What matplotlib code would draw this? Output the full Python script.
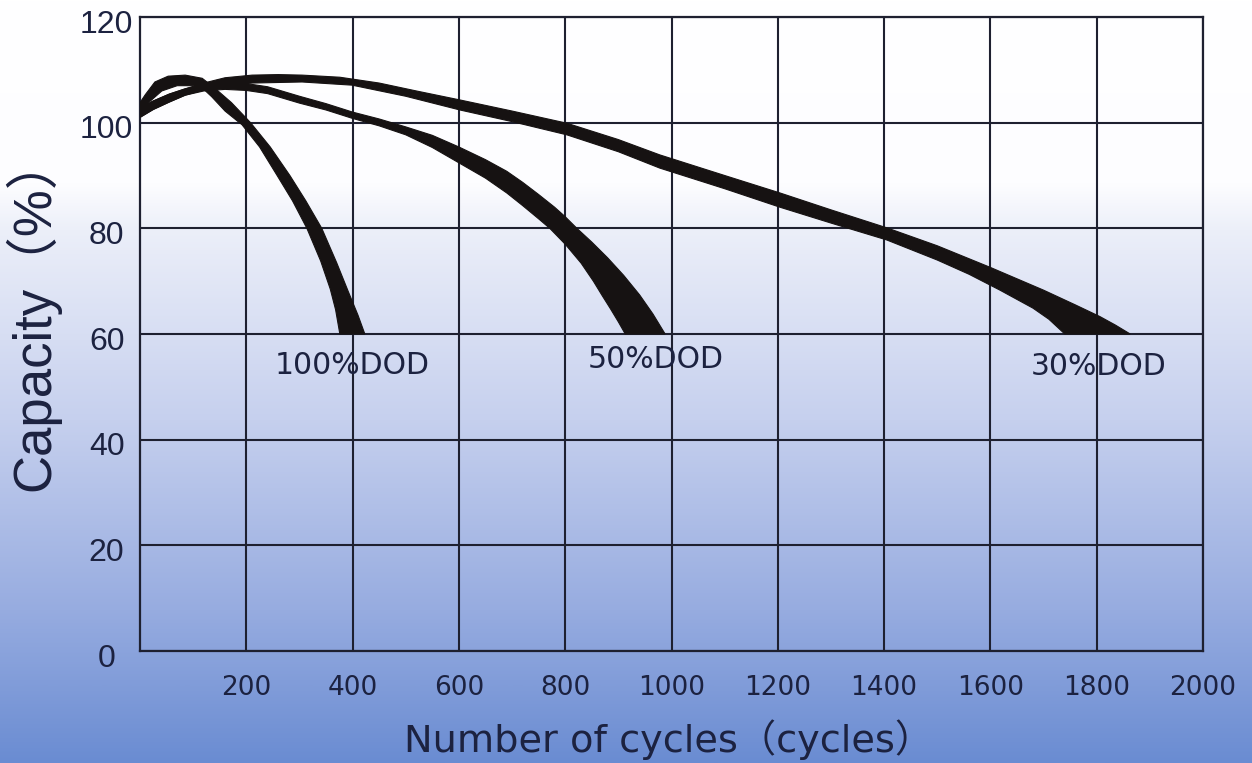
import numpy as np
import matplotlib
matplotlib.use("Agg")
import matplotlib.pyplot as plt
from matplotlib import font_manager
from matplotlib.colors import LinearSegmentedColormap
import matplotlib.transforms as mtransforms

# ---------------- data ----------------
x_ticks = [200, 400, 600, 800, 1000, 1200, 1400, 1600, 1800, 2000]
y_ticks = [0, 20, 40, 60, 80, 100, 120]

# 100% DOD band (upper/right edge and lower/left edge)
dod100_up_x = [0, 10, 28, 53, 85, 117, 140, 172, 208, 245, 282, 312, 342, 370, 392, 410, 423]
dod100_up_y = [103.8, 105.3, 107.7, 108.8, 109.0, 108.4, 106.6, 103.8, 100.0, 95.4, 90.0, 85.2, 80.0, 73.5, 68.0, 63.6, 60.0]
dod100_lo_x = [0, 15, 41, 70, 100, 117, 135, 160, 192, 225, 258, 287, 314, 340, 358, 368, 376]
dod100_lo_y = [101.8, 103.7, 106.0, 107.0, 107.0, 106.6, 104.9, 102.2, 99.6, 95.4, 90.0, 85.2, 80.0, 73.8, 68.5, 64.6, 60.0]

# 50% DOD band
dod50_up_x = [0, 25, 55, 85, 120, 160, 200, 240, 300, 350, 400, 450, 500, 550, 600, 650, 690, 720, 750, 780, 800, 822, 850, 880, 910, 940, 965, 988]
dod50_up_y = [102.8, 104.1, 105.4, 106.4, 107.2, 107.6, 107.4, 106.8, 105.0, 103.6, 102.0, 100.7, 99.2, 97.6, 95.4, 93.0, 90.8, 88.7, 86.4, 84.0, 82.2, 80.0, 77.4, 74.4, 71.1, 67.4, 63.8, 60.0]
dod50_lo_x = [0, 25, 55, 85, 120, 160, 200, 240, 300, 350, 400, 450, 500, 550, 600, 650, 690, 720, 750, 771, 800, 830, 853, 870, 885, 900, 913]
dod50_lo_y = [101.0, 102.5, 103.9, 105.2, 106.0, 106.3, 106.1, 105.5, 103.7, 102.4, 100.8, 99.4, 97.7, 95.3, 92.4, 89.5, 86.7, 84.3, 81.8, 80.0, 77.0, 73.4, 70.0, 67.2, 64.8, 62.3, 60.0]

# 30% DOD band
dod30_up_x = [0, 25, 55, 85, 120, 160, 211, 260, 305, 376, 450, 520, 602, 700, 803, 900, 978, 1100, 1204, 1300, 1405, 1500, 1600, 1700, 1760, 1806, 1835, 1863]
dod30_up_y = [102.8, 104.1, 105.4, 106.4, 107.5, 108.5, 109.0, 109.1, 109.0, 108.6, 107.5, 106.0, 104.3, 102.2, 99.9, 96.8, 93.9, 90.0, 86.7, 83.5, 80.1, 76.7, 72.6, 68.3, 65.5, 63.3, 61.7, 60.0]
dod30_lo_x = [0, 25, 55, 85, 120, 160, 211, 305, 399, 500, 602, 700, 803, 900, 978, 1100, 1204, 1300, 1405, 1500, 1560, 1618, 1680, 1710, 1740]
dod30_lo_y = [101.0, 102.5, 103.9, 105.2, 106.2, 107.0, 107.5, 107.7, 107.1, 105.0, 102.4, 100.2, 97.7, 94.5, 91.4, 87.5, 84.0, 81.0, 77.8, 74.0, 71.3, 68.3, 64.9, 62.8, 60.0]

band_labels = ["100%DOD", "50%DOD", "30%DOD"]
label_x = [254, 843, 1675]
label_y = [54.1, 55.1, 53.9]

# ---------------- fonts ----------------
names = {f.name for f in font_manager.fontManager.ttflist}
narrow = "Liberation Sans Narrow" if "Liberation Sans Narrow" in names else "Liberation Sans"
wide = "DejaVu Sans"

# ---------------- figure ----------------
W, H = 1252, 763
fig = plt.figure(figsize=(W / 100, H / 100), dpi=100)

# background gradient
bg = fig.add_axes([0, 0, 1, 1], zorder=0)
cmap = LinearSegmentedColormap.from_list(
    "bg",
    [(0.0, "#ffffff"), (0.24, "#fdfdff"), (0.30, "#eceff9"),
     (0.55, "#c6d0ee"), (0.80, "#97ace0"), (1.0, "#6a8cd2")])
grad = np.linspace(0, 1, 256).reshape(-1, 1)
bg.imshow(grad, aspect="auto", cmap=cmap, extent=[0, 1, 0, 1], origin="upper")
bg.set_axis_off()

ax = fig.add_axes([140 / W, 1 - 651 / H, (1203 - 140) / W, (651 - 17) / H], zorder=1)
ax.set_facecolor("none")
ax.set_xlim(0, 2000)
ax.set_ylim(0, 120)

line_c = "#1e2030"
text_c = "#1c2240"
band_c = "#161212"

ax.set_xticks(x_ticks)
ax.set_yticks(y_ticks)
ax.grid(True, color=line_c, lw=1.5)
ax.set_axisbelow(True)
for s in ax.spines.values():
    s.set_color(line_c)
    s.set_linewidth(1.6)
ax.tick_params(length=0)

ax.set_xticklabels([str(v) for v in x_ticks], fontsize=19, family=wide, color=text_c)
ax.set_yticklabels([str(v) for v in y_ticks], fontsize=23, family=narrow, color=text_c, ha="center")
ax.tick_params(axis="x", pad=17)
ax.tick_params(axis="y", pad=24)
off = mtransforms.ScaledTranslation(0, -3 / 72, fig.dpi_scale_trans)
for lab in ax.get_yticklabels():
    lab.set_transform(lab.get_transform() + off)

# bands
bands = [
    (dod100_up_x, dod100_up_y, dod100_lo_x, dod100_lo_y),
    (dod50_up_x, dod50_up_y, dod50_lo_x, dod50_lo_y),
    (dod30_up_x, dod30_up_y, dod30_lo_x, dod30_lo_y),
]
for ux, uy, lx, ly in bands:
    px = np.concatenate([ux, lx[::-1]])
    py = np.concatenate([uy, ly[::-1]])
    ax.fill(px, py, color=band_c, lw=0.8, ec=band_c, zorder=3)

for t, x, y in zip(band_labels, label_x, label_y):
    ax.text(x, y, t, fontsize=21.5, family=wide, color=text_c, ha="left", va="center", zorder=4)

ax.set_xlabel("Number of cycles（cycles）", fontsize=27.5,
              family=["DejaVu Sans", "Noto Sans CJK SC"], color=text_c)
ax.xaxis.set_label_coords(0.497, -0.108)
ax.set_ylabel("Capacity（%）", fontsize=38,
              family=["Liberation Sans", "Noto Sans CJK SC"], color=text_c)
ax.yaxis.set_label_coords(-0.075, 0.535)

fig.savefig("out.png", dpi=100)
